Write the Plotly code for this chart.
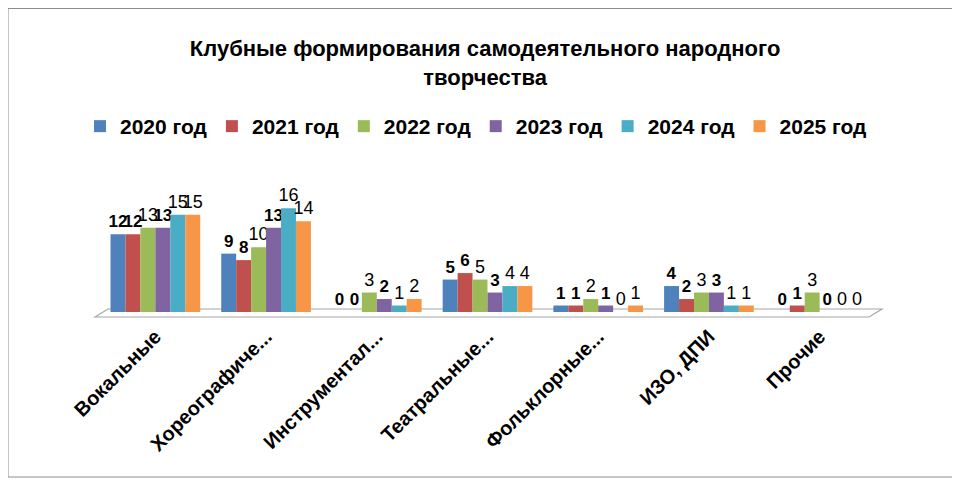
import plotly.graph_objects as go

categories = ["Вокальные", "Хореографические", "Инструментальные", "Театральные",
              "Фольклорные", "ИЗО, ДПИ", "Прочие"]
tick_labels = ["Вокальные", "Хореографиче...", "Инструментал...", "Театральные...",
               "Фольклорные...", "ИЗО, ДПИ", "Прочие"]
years = ["2020 год", "2021 год", "2022 год", "2023 год", "2024 год", "2025 год"]
v2020 = [12, 9, 0, 5, 1, 4, 0]
v2021 = [12, 8, 0, 6, 1, 2, 1]
v2022 = [13, 10, 3, 5, 2, 3, 3]
v2023 = [13, 13, 2, 3, 1, 3, 0]
v2024 = [15, 16, 1, 4, 0, 1, 0]
v2025 = [15, 14, 2, 4, 1, 1, 0]
series = [v2020, v2021, v2022, v2023, v2024, v2025]

colors = ["#4F81BD", "#C0504D", "#9BBB59", "#8064A2", "#4BACC6", "#F79646"]
bold_labels = [True, True, False, True, False, False]

# page body has an 8px margin, so work in screen pixels and shift
OFF = 8
W, H = 960, 480
ML = 100 - OFF
MT = 192 - OFF
MB = H - (312 - OFF)
MR = W - (875 - OFF)
pw, ph = W - ML - MR, H - MT - MB


def px_x(p):
    return (p - OFF - ML) / pw


def px_y(p):
    return (H - MB - (p - OFF)) / ph


FONT = "Liberation Sans, Arial"

fig = go.Figure()
for name, vals, col, b in zip(years, series, colors, bold_labels):
    fig.add_trace(go.Bar(
        x=categories, y=vals, name=name,
        marker=dict(color=col, line=dict(width=0)),
        text=vals, textposition="outside", cliponaxis=False, constraintext="none",
        textfont=dict(family=FONT, size=17 if b else 18,
                      color="black", weight="bold" if b else "normal"),
    ))

# floor of the 3D plot
fig.add_shape(type="path", xref="paper", yref="paper",
              path=f"M {px_x(95)},{px_y(317)} L {px_x(108)},{px_y(309)} "
                   f"L {px_x(882)},{px_y(309)} L {px_x(869)},{px_y(317)} Z",
              line=dict(color="#A6A6A6", width=1.2), fillcolor="rgba(0,0,0,0)",
              layer="below")
# chart border
fig.add_shape(type="rect", xref="paper", yref="paper",
              x0=px_x(OFF), x1=px_x(957), y0=px_y(477), y1=px_y(OFF + 0.5),
              line=dict(color="#8C8C8C", width=1))

fig.update_layout(
    width=W, height=H,
    margin=dict(l=ML, r=MR, t=MT, b=MB),
    paper_bgcolor="white", plot_bgcolor="white",
    barmode="group", bargap=0.19, bargroupgap=0,
    title=dict(text="Клубные формирования самодеятельного народного<br>творчества",
               x=0.497, xanchor="center", y=(H - 48) / H, yanchor="middle",
               font=dict(family=FONT, size=22, color="black", weight="bold")),
    legend=dict(orientation="h", x=px_x(80), xanchor="left",
                y=px_y(106), yanchor="top",
                font=dict(family=FONT, size=21, color="black", weight="bold"),
                itemwidth=30, tracegroupgap=0),
    xaxis=dict(tickvals=categories, ticktext=tick_labels, tickangle=-45,
               tickfont=dict(family=FONT, size=20, color="black", weight="bold"),
               ticklabelstandoff=8,
               showgrid=False, showline=False, zeroline=False, ticks=""),
    yaxis=dict(range=[0, 18.5], visible=False),
    showlegend=True,
)

fig.write_html("out.html")
